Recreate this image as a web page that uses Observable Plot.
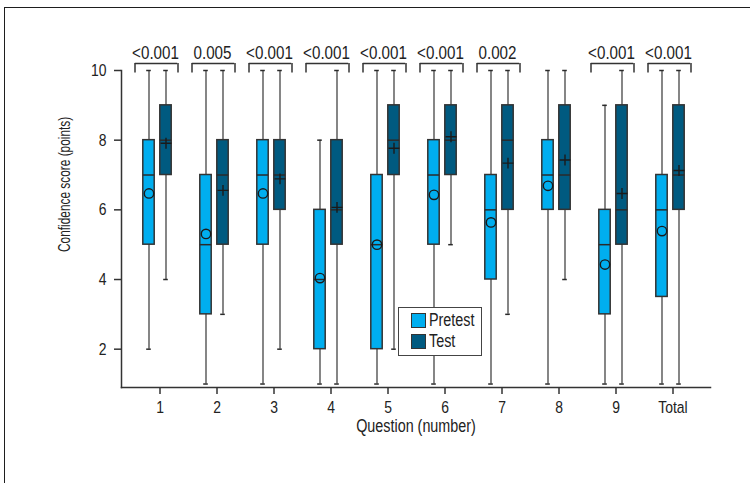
<!DOCTYPE html>
<html>
<head>
<meta charset="utf-8">
<script src="https://cdn.jsdelivr.net/npm/d3@7"></script>
<script src="https://cdn.jsdelivr.net/npm/@observablehq/plot@0.6"></script>
<style>
  body { margin: 0; background: #fff; overflow: hidden; }
  #wrap { position: relative; width: 750px; height: 483px; overflow: hidden;
    font-family: "Liberation Sans", Arial, sans-serif; color: #222; }
  #border { position: absolute; left: 4px; top: 7px; width: 800px; height: 520px;
    border-top: 1.5px solid #1e1e1e; border-left: 1.5px solid #1e1e1e; pointer-events: none; }
  #legend { position: absolute; left: 398px; top: 307px; width: 84px; height: 49px; box-sizing: border-box;
    border: 1.5px solid #444; background: #fff; }
  .sw { position: absolute; left: 12px; width: 15px; height: 15px; box-sizing: border-box; border: 1.5px solid #333; }
  .lt { position: absolute; left: 30px; height: 15px; line-height: 15px; font-size: 17.5px; color: #222;
    transform: scaleX(0.82); transform-origin: left center; white-space: nowrap; }
</style>
</head>
<body>
<div id="wrap">
  <div id="border"></div>
  <div id="chart"></div>
  <div id="legend"></div>
</div>
<script>
// ---- data ----
const questions = ["1", "2", "3", "4", "5", "6", "7", "8", "9", "Total"];
const groups = ["Pretest", "Test"];

const pretestMin    = [2, 1, 1, 1, 1, 1, 1, 1, 1, 1];
const pretestQ1     = [5, 3, 5, 2, 2, 5, 4, 6, 3, 3.5];
const pretestMedian = [7, 5, 7, 4, 5, 7, 6, 7, 5, 6];
const pretestQ3     = [8, 7, 8, 6, 7, 8, 7, 8, 6, 7];
const pretestMax    = [10, 10, 10, 8, 10, 10, 10, 10, 9, 10];
const pretestMean   = [6.47, 5.31, 6.47, 4.04, 5.0, 6.43, 5.64, 6.69, 4.43, 5.39];

const testMin    = [4, 3, 2, 1, 2, 5, 3, 4, 1, 1];
const testQ1     = [7, 5, 6, 5, 7, 7, 6, 6, 5, 6];
const testMedian = [8, 7, 7, 6, 8, 8, 8, 7, 6, 7];
const testQ3     = [9, 8, 8, 8, 9, 9, 9, 9, 9, 9];
const testMax    = [10, 10, 10, 10, 10, 10, 10, 10, 10, 10];
const testMean   = [7.91, 6.56, 6.89, 6.07, 7.77, 8.10, 7.34, 7.43, 6.47, 7.13];

const pValues = ["<0.001", "0.005", "<0.001", "<0.001", "<0.001", "<0.001", "0.002", "", "<0.001", "<0.001"];

const yTicks = [2, 4, 6, 8, 10];
const yDomain = [0.9, 10];
const xLabel = "Question (number)";
const yLabel = "Confidence score (points)";

// ---- tables built from the arrays ----
const stats = {
  Pretest: {min: pretestMin, q1: pretestQ1, median: pretestMedian, q3: pretestQ3, max: pretestMax, mean: pretestMean},
  Test: {min: testMin, q1: testQ1, median: testMedian, q3: testQ3, max: testMax, mean: testMean}
};
const rowsFor = (g) => questions.map((q, i) => ({
  question: q, group: g,
  min: stats[g].min[i], q1: stats[g].q1[i], median: stats[g].median[i],
  q3: stats[g].q3[i], max: stats[g].max[i], mean: stats[g].mean[i]
}));
const pRows = questions.map((q, i) => ({question: q, p: pValues[i]})).filter(d => d.p);

// ---- styles / layout ----
const W = 750, H = 483;
const mLeft = 121, mRight = 40, mTop = 70, mBottom = 96;
const padOuter = 0.113;
const bw = (W - mLeft - mRight) / (questions.length + 2 * padOuter);
const style = {
  Pretest: {fill: "#00aeef", offset: -11, symbol: "circle", r: 4.7},
  Test: {fill: "#005a80", offset: 6, symbol: "plus", r: 3.6}
};
const boxHalf = 6, capHalf = 2.6;
const ink = "#2a2a2a";
const font = '"Liberation Sans", Arial, sans-serif';

const insets = (c, half) => ({insetLeft: bw / 2 + c - half, insetRight: bw / 2 - c - half});

const groupMarks = groups.flatMap((g) => {
  const data = rowsFor(g);
  const s = style[g];
  return [
    Plot.ruleX(data, {x: "question", y1: "min", y2: "max", dx: s.offset, stroke: "#444", strokeWidth: 1.3}),
    Plot.tickY(data, {x: "question", y: "min", stroke: ink, strokeWidth: 1.5, ...insets(s.offset, capHalf)}),
    Plot.tickY(data, {x: "question", y: "max", stroke: ink, strokeWidth: 1.5, ...insets(s.offset, capHalf)}),
    Plot.barY(data, {x: "question", y1: "q1", y2: "q3", fill: s.fill, stroke: "#333", strokeWidth: 1.5, ...insets(s.offset, boxHalf)}),
    Plot.tickY(data, {x: "question", y: "median", stroke: ink, strokeWidth: 1.5, ...insets(s.offset, boxHalf)}),
    Plot.dot(data, {x: "question", y: "mean", dx: s.offset, symbol: s.symbol, r: s.r, stroke: "#1a1a1a", strokeWidth: 1.4, fill: "none"})
  ];
});

const bL = -25, bR = 18; // bracket extent relative to question centre
const bracketMarks = [
  Plot.tickY(pRows, {x: "question", y: () => yDomain[1], dy: -7, stroke: "#333", strokeWidth: 1.5, insetLeft: bw / 2 + bL, insetRight: bw / 2 - bR}),
  Plot.ruleX(pRows, {x: "question", y1: () => yDomain[1], y2: () => yDomain[1], dx: bL, insetTop: -7, insetBottom: -2.5, stroke: "#333", strokeWidth: 1.5}),
  Plot.ruleX(pRows, {x: "question", y1: () => yDomain[1], y2: () => yDomain[1], dx: bR, insetTop: -7, insetBottom: -2.5, stroke: "#333", strokeWidth: 1.5}),
  Plot.text(pRows, {x: "question", y: () => yDomain[1], text: "p", dx: (bL + bR) / 2 - 1, dy: -17, fontSize: 18.5, fill: "#222"})
];

const chart = Plot.plot({
  width: W, height: H,
  marginLeft: mLeft, marginRight: mRight, marginTop: mTop, marginBottom: mBottom,
  style: {fontFamily: font, fontSize: "17px", color: "#222", background: "transparent"},
  x: {type: "band", domain: questions, paddingInner: 0, paddingOuter: padOuter, axis: null},
  y: {domain: yDomain, axis: null},
  marks: [
    Plot.frame({anchor: "left", stroke: "#333", strokeWidth: 1.5}),
    Plot.frame({anchor: "bottom", stroke: "#333", strokeWidth: 1.5}),
    Plot.axisX({tickSize: 7, tickPadding: 6, label: null, stroke: "#333", strokeWidth: 1.5, fill: "#222"}),
    Plot.axisY({ticks: yTicks, tickSize: 7, tickPadding: 8, label: null, stroke: "#333", strokeWidth: 1.5, fill: "#222"}),
    ...groupMarks,
    ...bracketMarks,
    Plot.text([xLabel], {frameAnchor: "bottom", dy: 44, fontSize: 17.5, fill: "#222"}),
    Plot.text([yLabel], {frameAnchor: "left", rotate: -90, dx: -57, dy: 23, fontSize: 16.5, fill: "#222", className: "ylab"})
  ]
});

// condense the (Arial-metric) text horizontally to mimic the reference's condensed face
chart.querySelectorAll("text").forEach((t) => {
  const isY = t.closest(".ylab") !== null;
  const k = isY ? 0.72 : 0.82;
  const tr = t.getAttribute("transform");
  if (tr !== null) {
    t.setAttribute("transform", tr + ` scale(${k},1)`);
  } else {
    const x = +(t.getAttribute("x") || 0), y = +(t.getAttribute("y") || 0);
    t.removeAttribute("x"); t.removeAttribute("y");
    t.setAttribute("transform", `translate(${x},${y}) scale(${k},1)`);
  }
});
document.getElementById("chart").appendChild(chart);

// ---- legend ----
const legend = document.getElementById("legend");
groups.forEach((g, i) => {
  const sw = document.createElement("div");
  sw.className = "sw";
  sw.style.top = (5 + i * 20.5) + "px";
  sw.style.background = style[g].fill;
  legend.appendChild(sw);
  const t = document.createElement("div");
  t.className = "lt";
  t.style.top = (5 + i * 20.5) + "px";
  t.textContent = g;
  legend.appendChild(t);
});
</script>
</body>
</html>
